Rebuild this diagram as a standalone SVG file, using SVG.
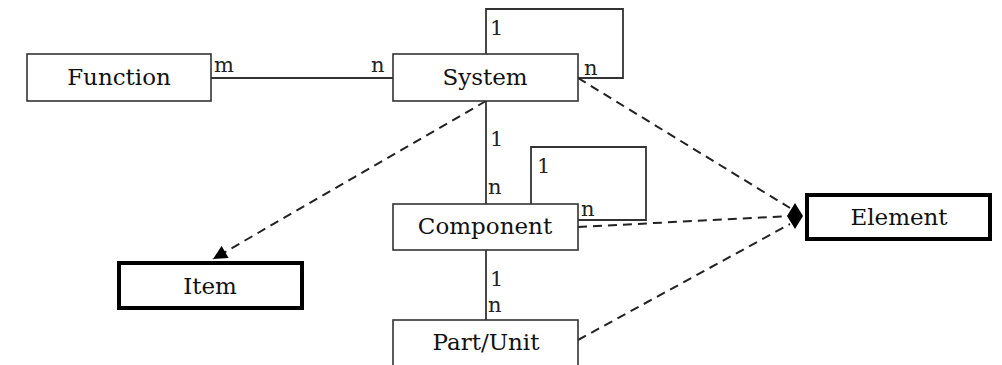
<svg xmlns="http://www.w3.org/2000/svg" width="1002" height="365" viewBox="0 0 1002 365">
  <style>
    .box { fill: #fff; stroke: #333; stroke-width: 1.6; }
    .strong { fill: #fff; stroke: #000; stroke-width: 4; }
    .name { font-family: "DejaVu Serif", "Liberation Serif", serif; font-size: 23px; fill: #111; text-anchor: middle; }
    .card { font-family: "DejaVu Serif", "Liberation Serif", serif; font-size: 21px; fill: #222; }
    .assoc { fill: none; stroke: #333; stroke-width: 1.8; }
    .dep { fill: none; stroke: #222; stroke-width: 2; stroke-dasharray: 9 6; }
  </style>
  <defs>
    <marker id="tri" viewBox="0 0 10 10" refX="10" refY="5" markerWidth="15" markerHeight="14" markerUnits="userSpaceOnUse" orient="auto">
      <path d="M0,0 L10,5 L0,10 Z" fill="#000"/>
    </marker>
  </defs>

  <!-- associations and dependencies -->
  <g id="connectors">
    <path class="assoc" d="M211,78 H393"/>
    <path class="assoc" d="M486,54 V9 H623 V78 H578"/>
    <path class="assoc" d="M486,101 V204"/>
    <path class="assoc" d="M531,204 V147 H646 V220 H578"/>
    <path class="assoc" d="M486,250 V320"/>
    <path class="dep" d="M486,101 L213,259" marker-end="url(#tri)"/>
    <path class="dep" d="M578,78 L790,208"/>
    <path class="dep" d="M578,227 L790,216"/>
    <path class="dep" d="M578,340 L790,224"/>
    <polygon points="787,216 795,203 803,216 795,229" fill="#000"/>

    <text class="card" x="214" y="72">m</text>
    <text class="card" x="371" y="72">n</text>
    <text class="card" x="490" y="35">1</text>
    <text class="card" x="584" y="75">n</text>
    <text class="card" x="490" y="146">1</text>
    <text class="card" x="488" y="194">n</text>
    <text class="card" x="537" y="173">1</text>
    <text class="card" x="581" y="216">n</text>
    <text class="card" x="490" y="286">1</text>
    <text class="card" x="488" y="312">n</text>
  </g>

  <g id="function">
    <rect class="box" x="27" y="54" width="184" height="47"/>
    <text class="name" x="119" y="85">Function</text>
  </g>
  <g id="system">
    <rect class="box" x="393" y="54" width="185" height="47"/>
    <text class="name" x="485" y="85">System</text>
  </g>
  <g id="component">
    <rect class="box" x="393" y="204" width="185" height="46"/>
    <text class="name" x="485" y="234">Component</text>
  </g>
  <g id="part-unit">
    <rect class="box" x="393" y="320" width="185" height="60"/>
    <text class="name" x="486" y="350">Part/Unit</text>
  </g>
  <g id="item">
    <rect class="strong" x="119" y="263" width="183" height="45"/>
    <text class="name" x="210" y="294">Item</text>
  </g>
  <g id="element">
    <rect class="strong" x="807" y="195" width="183" height="44"/>
    <text class="name" x="899" y="225">Element</text>
  </g>
</svg>
